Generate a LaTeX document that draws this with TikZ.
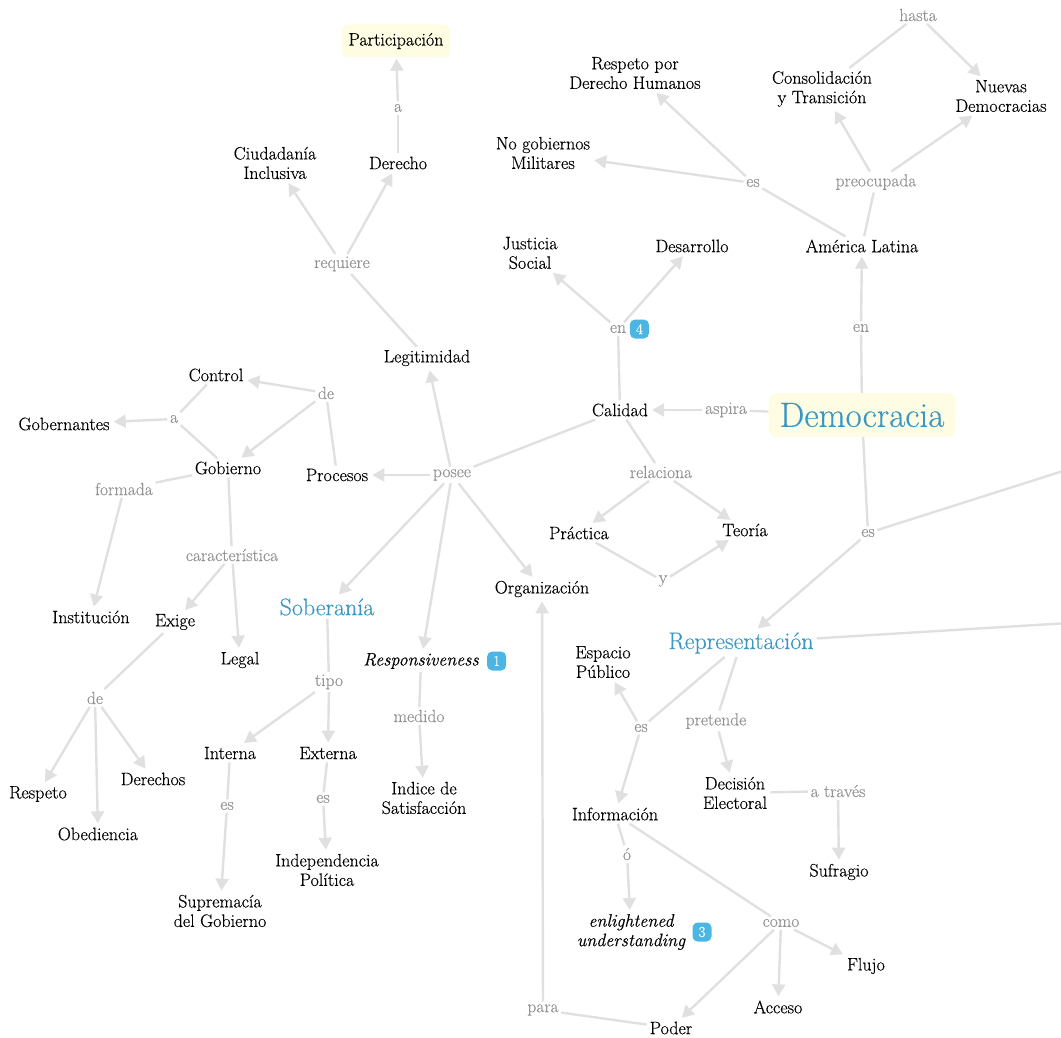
\documentclass[tikz,border=0pt]{standalone}
\usepackage{fontspec}
\setmainfont{Latin Modern Roman}[FakeBold=0.35]
\usetikzlibrary{arrows.meta,positioning}

\definecolor{linegray}{HTML}{E0E0E0}
\definecolor{phrasegray}{HTML}{939393}
\definecolor{cmapblue}{HTML}{3A97C4}
\definecolor{badgeblue}{HTML}{4BB6E4}
\definecolor{paleyellow}{HTML}{FEFDE4}

\tikzset{
  concept/.style={align=center, font=\fontsize{18}{19.5}\selectfont, inner sep=3pt},
  phrase/.style={align=center, text=phrasegray, font=\fontsize{17.5}{19}\selectfont, inner sep=2.5pt},
  theme/.style={concept, text=cmapblue, font=\fontsize{24}{26}\selectfont},
  hilite/.style={concept, fill=paleyellow, rounded corners=6pt, minimum width=108pt, minimum height=33pt},
  mainbox/.style={concept, fill=paleyellow, text=cmapblue, rounded corners=8pt, font=\fontsize{35}{38}\selectfont, minimum width=187pt, minimum height=44pt},
  badge/.style={fill=badgeblue, text=white, rounded corners=5pt, minimum size=19pt, inner sep=0pt, font=\fontsize{15}{15}\selectfont},
  link/.style={draw=linegray, line width=2.4pt},
  arrowlink/.style={link, -{Triangle[length=12pt,width=13pt]}, shorten >=1pt}
}

\begin{document}
\begin{tikzpicture}[x=1pt, y=-1pt]
\useasboundingbox (0,0) rectangle (1061,1038);

% concepts and linking phrases
\node[mainbox] (democracia) at (862,415) {Democracia};
\node[hilite] (participacion) at (396,41) {Participación};
\node[concept] (ciudadania) at (275,163) {Ciudadanía\\Inclusiva};
\node[concept] (derecho) at (398,163) {Derecho};
\node[phrase] (a1) at (398,108) {a};
\node[phrase] (requiere) at (342,264) {requiere};
\node[concept] (legitimidad) at (427,358) {Legitimidad};
\node[concept] (control) at (216,375) {Control};
\node[phrase] (de1) at (326,393) {de};
\node[phrase] (a2) at (174,419) {a};
\node[concept] (gobernantes) at (64,424) {Gobernantes};
\node[concept] (gobierno) at (228,468) {Gobierno};
\node[concept] (procesos) at (337,475) {Procesos};
\node[phrase] (posee) at (452,475) {posee};
\node[phrase] (formada) at (124,489) {formada};
\node[phrase] (caracteristica) at (232,555) {característica};
\node[concept] (institucion) at (91,617) {Institución};
\node[concept] (exige) at (175,622) {Exige};
\node[concept] (legal) at (240,660) {Legal};
\node[theme] (soberania) at (327,607) {Soberanía};
\node[concept, font=\fontsize{18}{19.5}\selectfont\itshape] (responsiveness) at (421,661) {Responsiveness};
\node[badge, right=5pt of responsiveness] (nota1) {1};
\node[phrase] (tipo) at (329,682) {tipo};
\node[phrase] (de2) at (95,698) {de};
\node[phrase] (medido) at (419,716) {medido};
\node[concept] (interna) at (230,753) {Interna};
\node[concept] (externa) at (328,753) {Externa};
\node[concept] (derechos) at (153,779) {Derechos};
\node[concept] (respeto) at (38,794) {Respeto};
\node[concept] (obediencia) at (98,834) {Obediencia};
\node[phrase] (es1) at (227,806) {es};
\node[phrase] (es2) at (323,799) {es};
\node[concept] (indice) at (424,798) {Indice de\\Satisfacción};
\node[concept] (independencia) at (327,870) {Independencia\\Política};
\node[concept] (supremacia) at (220,911) {Supremacía\\del Gobierno};
\node[concept] (calidad) at (620,410) {Calidad};
\node[phrase] (aspira) at (726,410) {aspira};
\node[phrase] (en1) at (618,329) {en};
\node[badge, right=1pt of en1] (nota4) {4};
\node[concept] (justicia) at (530,253) {Justicia\\Social};
\node[concept] (desarrollo) at (692,246) {Desarrollo};
\node[concept] (respetodh) at (635,73) {Respeto por\\Derecho Humanos};
\node[concept] (nogobiernos) at (543,153) {No gobiernos\\Militares};
\node[phrase] (es3) at (753,183) {es};
\node[phrase] (preocupada) at (876,182) {preocupada};
\node[phrase] (hasta) at (918,15) {hasta};
\node[concept] (consolidacion) at (822,89) {Consolidación\\y Transición};
\node[concept] (nuevas) at (1001,96) {Nuevas\\Democracias};
\node[concept] (america) at (862,246) {América Latina};
\node[phrase] (en2) at (861,328) {en};
\node[phrase] (relaciona) at (661,472) {relaciona};
\node[concept] (practica) at (579,533) {Práctica};
\node[concept] (teoria) at (745,530) {Teoría};
\node[phrase] (y) at (663,581) {y};
\node[concept] (organizacion) at (542,589) {Organización};
\node[phrase] (es4) at (868,533) {es};
\node[theme] (representacion) at (741,643) {Representación};
\node[concept] (espacio) at (603,662) {Espacio\\Público};
\node[phrase] (es5) at (641,728) {es};
\node[phrase] (pretende) at (716,721) {pretende};
\node[concept] (decision) at (735,793) {Decisión\\Electoral};
\node[phrase] (atraves) at (838,791) {a través};
\node[concept] (informacion) at (615,814) {Información};
\node[phrase] (o) at (627,854) {ó};
\node[concept] (sufragio) at (839,872) {Sufragio};
\node[concept, font=\fontsize{18}{19.5}\selectfont\itshape] (enlightened) at (631,932) {enlightened\\understanding};
\node[badge, right=4pt of enlightened] (nota3) {3};
\node[phrase] (como) at (781,923) {como};
\node[concept] (flujo) at (866,966) {Flujo};
\node[concept] (acceso) at (778,1007) {Acceso};
\node[phrase] (para) at (543,1010) {para};
\node[concept] (poder) at (671,1028) {Poder};
\coordinate (fueraA) at (1085,464);
\coordinate (fueraB) at (1085,622);

% propositions
\draw[link] (derecho) -- (a1);
\draw[arrowlink] (a1) -- (participacion);
\draw[link] (legitimidad) -- (requiere);
\draw[arrowlink] (requiere) -- (ciudadania);
\draw[arrowlink] (requiere) -- (derecho);
\draw[link] (calidad) -- (posee);
\foreach \dest in {legitimidad, procesos, soberania, responsiveness, organizacion}
  \draw[arrowlink] (posee) -- (\dest);
\draw[link] (procesos) -- (de1);
\draw[arrowlink] (de1) -- (control);
\draw[arrowlink] (de1) -- (gobierno);
\draw[link] (control) -- (a2);
\draw[link] (gobierno) -- (a2);
\draw[arrowlink] (a2) -- (gobernantes);
\draw[link] (gobierno) -- (formada);
\draw[arrowlink] (formada) -- (institucion);
\draw[link] (gobierno) -- (caracteristica);
\draw[arrowlink] (caracteristica) -- (exige);
\draw[arrowlink] (caracteristica) -- (legal);
\draw[link] (exige) -- (de2);
\foreach \dest in {respeto, obediencia, derechos}
  \draw[arrowlink] (de2) -- (\dest);
\draw[link] (soberania) -- (tipo);
\draw[arrowlink] (tipo) -- (interna);
\draw[arrowlink] (tipo) -- (externa);
\draw[link] (interna) -- (es1);
\draw[arrowlink] (es1) -- (supremacia);
\draw[link] (externa) -- (es2);
\draw[arrowlink] (es2) -- (independencia);
\draw[link] (responsiveness) -- (medido);
\draw[arrowlink] (medido) -- (indice);
\draw[link] (democracia) -- (aspira);
\draw[arrowlink] (aspira) -- (calidad);
\draw[link] (calidad) -- (en1);
\draw[arrowlink] (en1) -- (justicia);
\draw[arrowlink] (en1) -- (desarrollo);
\draw[link] (calidad) -- (relaciona);
\draw[arrowlink] (relaciona) -- (practica);
\draw[arrowlink] (relaciona) -- (teoria);
\draw[link] (practica) -- (y);
\draw[arrowlink] (y) -- (teoria);
\draw[link] (democracia) -- (en2);
\draw[arrowlink] (en2) -- (america);
\draw[link] (america) -- (es3);
\draw[arrowlink] (es3) -- (respetodh);
\draw[arrowlink] (es3) -- (nogobiernos);
\draw[link] (america) -- (preocupada);
\draw[arrowlink] (preocupada) -- (consolidacion);
\draw[arrowlink] (preocupada) -- (nuevas);
\draw[link] (consolidacion) -- (hasta);
\draw[arrowlink] (hasta) -- (nuevas);
\draw[link] (democracia) -- (es4);
\draw[arrowlink] (es4) -- (representacion);
\draw[link] (es4) -- (fueraA);
\draw[link] (representacion) -- (fueraB);
\draw[link] (representacion) -- (es5);
\draw[arrowlink] (es5) -- (espacio);
\draw[arrowlink] (es5) -- (informacion);
\draw[link] (representacion) -- (pretende);
\draw[arrowlink] (pretende) -- (decision);
\draw[link] (decision) -- (atraves);
\draw[arrowlink] (atraves) -- (sufragio);
\draw[link] (informacion) -- (o);
\draw[arrowlink] (o) -- (enlightened);
\draw[link] (informacion) -- (como);
\foreach \dest in {poder, acceso, flujo}
  \draw[arrowlink] (como) -- (\dest);
\draw[link] (poder) -- (para);
\draw[arrowlink] (para) -- (organizacion);
\end{tikzpicture}
\end{document}
